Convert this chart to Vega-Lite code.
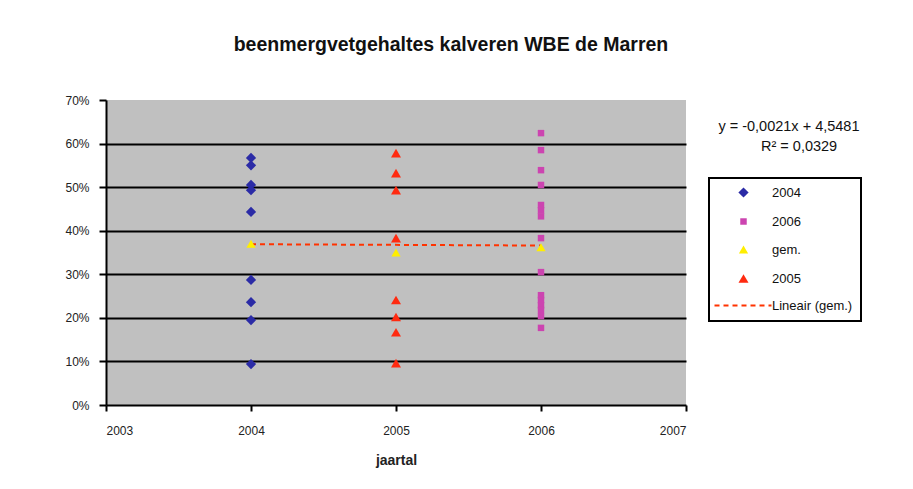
{
  "$schema": "https://vega.github.io/schema/vega-lite/v6.json",
  "width": 580,
  "height": 305,
  "autosize": {"type": "none"},
  "padding": {"left": 106, "top": 100, "right": 227, "bottom": 84},
  "background": "white",
  "title": {
    "text": "beenmergvetgehaltes kalveren WBE de Marren",
    "font": "Liberation Sans",
    "fontSize": 19.5,
    "fontWeight": "bold",
    "color": "#111111",
    "anchor": "middle",
    "dx": 55,
    "offset": 39
  },
  "config": {
    "view": {"fill": "#c0c0c0", "stroke": null},
    "font": "Liberation Sans"
  },
  "data": {
    "values": [
      {"year": 2004, "value": 0.567, "series": "2004"},
      {"year": 2004, "value": 0.55, "series": "2004"},
      {"year": 2004, "value": 0.505, "series": "2004"},
      {"year": 2004, "value": 0.493, "series": "2004"},
      {"year": 2004, "value": 0.443, "series": "2004"},
      {"year": 2004, "value": 0.287, "series": "2004"},
      {"year": 2004, "value": 0.236, "series": "2004"},
      {"year": 2004, "value": 0.195, "series": "2004"},
      {"year": 2004, "value": 0.094, "series": "2004"},
      {"year": 2006, "value": 0.624, "series": "2006"},
      {"year": 2006, "value": 0.585, "series": "2006"},
      {"year": 2006, "value": 0.539, "series": "2006"},
      {"year": 2006, "value": 0.505, "series": "2006"},
      {"year": 2006, "value": 0.459, "series": "2006"},
      {"year": 2006, "value": 0.447, "series": "2006"},
      {"year": 2006, "value": 0.433, "series": "2006"},
      {"year": 2006, "value": 0.383, "series": "2006"},
      {"year": 2006, "value": 0.305, "series": "2006"},
      {"year": 2006, "value": 0.252, "series": "2006"},
      {"year": 2006, "value": 0.241, "series": "2006"},
      {"year": 2006, "value": 0.229, "series": "2006"},
      {"year": 2006, "value": 0.218, "series": "2006"},
      {"year": 2006, "value": 0.204, "series": "2006"},
      {"year": 2006, "value": 0.177, "series": "2006"},
      {"year": 2005, "value": 0.578, "series": "2005"},
      {"year": 2005, "value": 0.532, "series": "2005"},
      {"year": 2005, "value": 0.493, "series": "2005"},
      {"year": 2005, "value": 0.383, "series": "2005"},
      {"year": 2005, "value": 0.241, "series": "2005"},
      {"year": 2005, "value": 0.202, "series": "2005"},
      {"year": 2005, "value": 0.167, "series": "2005"},
      {"year": 2005, "value": 0.096, "series": "2005"},
      {"year": 2004, "value": 0.37, "series": "gem."},
      {"year": 2005, "value": 0.35, "series": "gem."},
      {"year": 2006, "value": 0.362, "series": "gem."},
      {"year": 2004, "value": 0.369, "series": "Lineair (gem.)"},
      {"year": 2006, "value": 0.366, "series": "Lineair (gem.)"}
    ]
  },
  "layer": [
    {
      "transform": [{"filter": "datum.series === 'Lineair (gem.)'"}],
      "mark": {"type": "line", "strokeWidth": 2},
      "encoding": {
        "x": {"field": "year", "type": "quantitative"},
        "y": {"field": "value", "type": "quantitative"},
        "stroke": {
          "field": "series",
          "type": "nominal",
          "scale": {
            "domain": ["2004", "2006", "gem.", "2005", "Lineair (gem.)"],
            "range": ["transparent", "transparent", "transparent", "transparent", "#ff3300"]
          },
          "legend": {
            "title": null,
            "orient": "none",
            "legendX": 603,
            "legendY": 78,
            "padding": 8,
            "fillColor": "white",
            "strokeColor": "#000000",
            "labelFont": "Liberation Sans",
            "labelFontSize": 13,
            "labelColor": "#111111",
            "labelExpr": "datum.label === 'Lineair (gem.)' ? 'Lineair (gem.)\u00a0\u00a0\u00a0\u00a0\u00a0\u00a0\u00a0\u00a0' : datum.label",
            "symbolOffset": 20,
            "symbolStrokeWidth": 2,
            "labelOffset": 22,
            "rowPadding": 12,
            "encode": {
              "legend": {"update": {"strokeWidth": {"value": 2}}}
            }
          }
        },
        "strokeDash": {
          "field": "series",
          "type": "nominal",
          "scale": {
            "domain": ["2004", "2006", "gem.", "2005", "Lineair (gem.)"],
            "range": [[1, 0], [1, 0], [1, 0], [1, 0], [5, 4]]
          }
        }
      }
    },
    {
      "transform": [{"filter": "datum.series !== 'Lineair (gem.)'"}],
      "mark": {"type": "point", "filled": true, "opacity": 1, "strokeWidth": 2},
      "encoding": {
        "x": {
          "field": "year",
          "type": "quantitative",
          "scale": {"domain": [2003, 2007], "nice": false, "zero": false},
          "axis": {
            "values": [2003, 2004, 2005, 2006, 2007],
            "format": "d",
            "title": "jaartal",
            "titleFont": "Liberation Sans",
            "titleFontSize": 14,
            "titleFontWeight": "bold",
            "titleColor": "#222222",
            "titlePadding": 17,
            "labelFontSize": 12,
            "labelColor": "#222222",
            "labelPadding": 14,
            "domainColor": "#000000",
            "domainWidth": 2,
            "tickColor": "#000000",
            "tickWidth": 2,
            "tickSize": 6,
            "grid": false
          }
        },
        "y": {
          "field": "value",
          "type": "quantitative",
          "scale": {"domain": [0, 0.7], "nice": false},
          "axis": {
            "values": [0, 0.1, 0.2, 0.3, 0.4, 0.5, 0.6, 0.7],
            "format": ".0%",
            "title": null,
            "labelFontSize": 12,
            "labelColor": "#222222",
            "labelPadding": 10,
            "domainColor": "#000000",
            "domainWidth": 2,
            "tickColor": "#000000",
            "tickWidth": 2,
            "tickSize": 7,
            "grid": true,
            "gridColor": {"condition": {"test": "datum.value >= 0.69 || datum.value <= 0.01", "value": "transparent"}, "value": "#000000"},
            "gridWidth": 2,
            "gridOpacity": 1
          }
        },
        "fill": {
          "field": "series",
          "type": "nominal",
          "scale": {
            "domain": ["2004", "2006", "gem.", "2005", "Lineair (gem.)"],
            "range": ["#2b2ba6", "#cc44b0", "#ffee00", "#ff2a10", "transparent"]
          },
          "legend": {
            "title": null,
            "orient": "none",
            "legendX": 603,
            "legendY": 78,
            "padding": 8,
            "fillColor": "white",
            "strokeColor": "#000000",
            "labelFont": "Liberation Sans",
            "labelFontSize": 13,
            "labelColor": "#111111",
            "labelExpr": "datum.label === 'Lineair (gem.)' ? 'Lineair (gem.)\u00a0\u00a0\u00a0\u00a0\u00a0\u00a0\u00a0\u00a0' : datum.label",
            "symbolOffset": 20,
            "symbolStrokeWidth": 2,
            "labelOffset": 22,
            "rowPadding": 12,
            "encode": {
              "legend": {"update": {"strokeWidth": {"value": 2}}}
            }
          }
        },
        "stroke": {"field": "series", "type": "nominal"},
        "strokeDash": {"field": "series", "type": "nominal"},
        "shape": {
          "field": "series",
          "type": "nominal",
          "scale": {
            "domain": ["2004", "2006", "gem.", "2005", "Lineair (gem.)"],
            "range": ["diamond", "square", "triangle-up", "triangle-up", "M-5.8,0H5.6"]
          }
        },
        "size": {
          "field": "series",
          "type": "nominal",
          "scale": {
            "type": "ordinal",
            "domain": ["2004", "2006", "gem.", "2005", "Lineair (gem.)"],
            "range": [105, 42, 85, 100, 100]
          }
        }
      }
    },
    {
      "data": {"values": [{"t": "y = -0,0021x + 4,5481"}]},
      "mark": {
        "type": "text",
        "font": "Liberation Sans",
        "fontSize": 14.5,
        "fill": "#111111",
        "align": "center",
        "baseline": "middle"
      },
      "encoding": {
        "x": {"datum": 2007.71, "type": "quantitative"},
        "y": {"datum": 0.638, "type": "quantitative"},
        "text": {"field": "t", "type": "nominal"}
      }
    },
    {
      "data": {"values": [{"t": "R² = 0,0329"}]},
      "mark": {
        "type": "text",
        "font": "Liberation Sans",
        "fontSize": 14.5,
        "fill": "#111111",
        "align": "center",
        "baseline": "middle"
      },
      "encoding": {
        "x": {"datum": 2007.78, "type": "quantitative"},
        "y": {"datum": 0.592, "type": "quantitative"},
        "text": {"field": "t", "type": "nominal"}
      }
    }
  ]
}
